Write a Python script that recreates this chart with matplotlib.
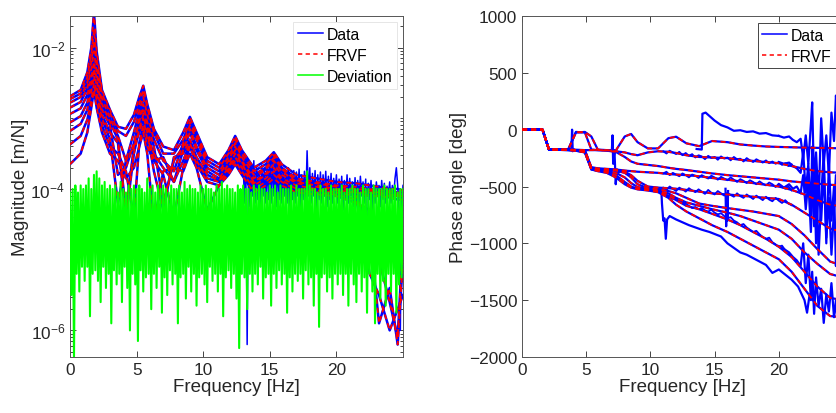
import numpy as np
import matplotlib.pyplot as plt
from matplotlib.ticker import FixedLocator, LogLocator, NullFormatter

plt.rcParams['font.family'] = ['Liberation Sans', 'DejaVu Sans']
plt.rcParams['mathtext.fontset'] = 'custom'
plt.rcParams['mathtext.rm'] = 'Liberation Sans'
plt.rcParams['mathtext.it'] = 'Liberation Sans:italic'

# ---- magnitude: log10(|H|) in m/N at mag_freq (Hz)
mag_freq = [0, 0.8, 1.3, 1.6, 1.8, 2.0, 2.4, 3.0, 3.6, 4.2, 4.8, 5.2, 5.5, 5.8, 6.3,
            7.0, 7.8, 8.5, 9.0, 9.5, 10.3, 11.2, 11.9, 12.4, 12.9, 13.8, 14.7, 15.3,
            15.9, 17.0, 18.5, 20.0, 21.5, 22.5, 23.2, 24.0, 24.6, 25.0]
mag_1 = [-2.69, -2.60, -2.35, -2.0, -1.5, -2.05, -2.6, -2.88, -3.12, -3.15, -2.95, -2.7,
         -2.54, -2.8, -3.15, -3.4, -3.45, -3.2, -2.98, -3.2, -3.55, -3.65, -3.45, -3.25,
         -3.45, -3.7, -3.6, -3.48, -3.65, -3.8, -3.85, -3.9, -3.92, -3.95, -3.97, -4.0,
         -4.0, -4.02]
mag_2 = [-2.73, -2.65, -2.42, -2.1, -1.75, -2.15, -2.65, -2.92, -3.18, -3.25, -3.05, -2.8,
         -2.6, -2.85, -3.2, -3.5, -3.5, -3.3, -3.05, -3.25, -3.6, -3.7, -3.5, -3.3, -3.5,
         -3.75, -3.65, -3.52, -3.7, -3.85, -3.9, -3.95, -3.97, -4.0, -4.02, -4.03, -4.05,
         -4.05]
mag_3 = [-2.78, -2.7, -2.5, -2.2, -1.9, -2.25, -2.72, -3.0, -3.25, -3.6, -3.2, -2.9, -2.7,
         -2.95, -3.3, -3.6, -3.75, -3.35, -3.1, -3.3, -3.65, -3.75, -3.55, -3.35, -3.55,
         -3.8, -3.7, -3.56, -3.72, -3.88, -3.92, -3.97, -4.0, -4.02, -4.05, -4.05, -4.08,
         -4.1]
mag_4 = [-2.85, -2.77, -2.58, -2.3, -2.05, -2.35, -2.8, -3.05, -3.3, -4.3, -3.4, -3.0,
         -2.8, -3.05, -3.4, -4.2, -3.6, -3.4, -3.15, -3.4, -3.7, -3.8, -3.6, -3.4, -3.6,
         -3.85, -3.72, -3.6, -3.75, -3.9, -3.95, -4.0, -4.02, -4.05, -4.05, -4.08, -4.1,
         -4.1]
mag_5 = [-2.94, -2.86, -2.67, -2.42, -2.2, -2.45, -2.88, -3.1, -3.8, -3.7, -3.35, -3.05,
         -2.85, -3.1, -3.6, -3.55, -3.9, -3.45, -3.2, -3.45, -3.75, -3.85, -3.65, -3.45,
         -3.62, -3.9, -3.78, -3.65, -3.8, -3.92, -3.97, -4.02, -4.05, -4.05, -4.08, -4.1,
         -4.1, -4.12]
mag_6 = [-3.06, -2.97, -2.78, -2.52, -2.3, -2.55, -2.95, -3.2, -3.35, -4.4, -3.5, -3.15,
         -2.95, -3.2, -3.75, -4.3, -3.55, -3.5, -3.3, -3.55, -3.8, -3.88, -3.7, -3.5, -3.65,
         -3.92, -3.8, -3.7, -3.85, -3.95, -4.0, -4.05, -4.05, -4.1, -4.1, -4.12, -4.15,
         -4.15]
mag_7 = [-3.18, -3.08, -2.88, -2.62, -2.4, -2.65, -3.0, -3.3, -4.2, -3.6, -3.4, -3.2, -3.0,
         -3.3, -3.5, -3.7, -3.9, -3.6, -3.35, -3.6, -3.85, -3.9, -3.72, -3.55, -3.7, -3.95,
         -3.85, -3.75, -3.88, -4.0, -4.02, -4.05, -4.1, -4.6, -5.9, -5.4, -6.2, -5.0]
mag_8 = [-3.37, -3.25, -3.02, -2.75, -2.5, -2.75, -3.1, -3.4, -3.5, -3.75, -4.4, -3.35,
         -3.1, -3.4, -3.6, -3.8, -4.4, -3.7, -3.4, -3.65, -3.9, -3.95, -3.75, -3.6, -3.75,
         -4.0, -3.9, -3.8, -3.9, -4.02, -4.05, -4.08, -4.15, -5.2, -5.5, -6.0, -5.7, -5.5]
mag_9 = [-3.65, -3.5, -3.2, -2.85, -2.6, -2.85, -3.2, -3.5, -3.6, -3.85, -3.7, -3.4, -3.2,
         -3.5, -4.5, -3.75, -3.7, -3.75, -3.5, -3.7, -4.3, -3.95, -3.8, -3.65, -3.8, -4.05,
         -3.95, -3.85, -3.95, -4.05, -4.08, -4.1, -4.2, -4.3, -5.0, -5.6, -6.1, -4.7]

# noisy part of the measured data, 13..25 Hz every 0.1 Hz (log10)
data_noise = [
    -3.62, -4.2, -3.7, -6.2, -3.65, -4.25, -3.72, -4.1, -3.6, -4.2,
    -3.68, -4.15, -3.75, -4.3, -3.66, -4.1, -3.7, -4.2, -3.62, -4.15,
    -3.6, -4.2, -3.58, -4.1, -3.65, -4.25, -3.62, -4.15, -3.7, -4.2,
    -3.72, -4.1, -3.75, -4.2, -3.7, -4.3, -3.78, -4.15, -3.74, -4.2,
    -3.76, -4.1, -3.72, -4.25, -3.8, -4.15, -3.75, -4.2, -3.46, -4.1,
    -3.7, -4.2, -3.78, -4.1, -3.74, -4.3, -3.8, -4.15, -3.76, -4.2,
    -3.8, -4.1, -3.75, -4.25, -3.82, -4.15, -3.78, -4.2, -3.85, -4.1,
    -3.8, -4.2, -3.86, -4.1, -3.82, -4.3, -3.88, -4.15, -3.8, -4.2,
    -3.85, -4.1, -3.9, -4.25, -3.84, -4.15, -3.88, -4.2, -3.82, -4.1,
    -3.9, -4.2, -3.86, -5.5, -3.92, -4.15, -3.88, -4.3, -3.95, -4.2,
    -3.9, -4.1, -3.95, -4.25, -3.88, -4.15, -3.92, -4.2, -3.96, -4.1,
    -3.9, -4.2, -3.95, -4.1, -3.85, -3.7, -3.95, -4.3, -6.0, -4.2,
    -3.95]

# deviation, 0..25 Hz every 0.1 Hz (log10)
deviation = [
    -4.05, -5.5, -4.0, -6.4, -3.95, -5.2, -4.05, -5.45, -3.95, -5.1,
    -4.0, -5.3, -3.95, -5.1, -3.85, -5.8, -4.0, -5.2, -3.8, -5.15,
    -3.75, -5.3, -3.85, -5.6, -3.95, -5.1, -3.9, -5.4, -4.0, -5.2,
    -3.95, -5.9, -4.0, -5.15, -3.95, -5.35, -4.05, -5.2, -3.9, -5.6,
    -4.0, -5.1, -4.05, -5.4, -3.95, -6.0, -4.0, -5.2, -3.95, -5.35,
    -4.0, -6.15, -3.95, -5.15, -4.0, -5.45, -4.05, -5.25, -3.85, -5.2,
    -4.0, -5.7, -3.95, -5.2, -4.05, -5.4, -3.95, -5.1, -4.0, -5.75,
    -3.95, -5.25, -4.0, -5.5, -4.05, -5.15, -3.95, -5.35, -4.0, -5.2,
    -4.0, -5.9, -3.95, -5.25, -4.05, -5.2, -3.9, -5.55, -4.0, -5.1,
    -3.95, -5.45, -4.0, -5.2, -4.0, -5.65, -4.05, -5.25, -3.95, -5.2,
    -4.0, -5.35, -3.95, -5.6, -4.0, -5.1, -4.0, -5.3, -4.05, -5.2,
    -3.95, -5.45, -4.0, -5.2, -3.9, -5.8, -4.0, -5.25, -3.95, -5.15,
    -4.0, -5.4, -4.0, -5.2, -4.05, -5.55, -3.95, -6.25, -4.0, -5.2,
    -3.95, -5.25, -4.0, -5.7, -4.0, -5.2, -4.05, -5.45, -3.95, -5.2,
    -4.0, -5.35, -3.95, -5.1, -4.0, -5.55, -4.0, -5.25, -4.05, -5.2,
    -3.95, -5.65, -4.0, -5.2, -3.95, -5.4, -4.05, -5.15, -3.95, -5.35,
    -4.0, -5.2, -4.0, -5.75, -4.0, -5.25, -3.95, -5.45, -4.05, -5.2,
    -3.95, -5.3, -4.0, -5.2, -4.0, -5.55, -4.0, -5.15, -3.75, -5.35,
    -3.95, -5.25, -4.0, -5.65, -4.0, -5.2, -4.05, -5.95, -3.95, -5.25,
    -4.0, -5.2, -4.0, -5.45, -4.05, -5.25, -3.95, -5.55, -4.0, -5.2,
    -4.0, -5.35, -4.0, -5.2, -3.95, -5.5, -4.05, -5.2, -4.0, -5.65,
    -4.0, -5.2, -3.95, -5.35, -4.0, -5.6, -4.0, -5.2, -4.05, -5.45,
    -3.95, -5.25, -4.0, -5.75, -4.0, -5.2, -4.05, -5.45, -3.95, -5.9,
    -4.0, -5.2, -4.0, -5.55, -4.0, -5.3, -3.95, -5.65, -4.0, -5.2,
    -4.0, -5.45, -4.0, -5.2, -3.95, -5.75, -4.05, -5.35, -4.0, -5.25,
    -4.0]

# ---- phase in degrees, read at ph_freq (Hz)
ph_freq = [0, 1.6, 2.1, 3.6, 4.2, 4.9, 5.4, 5.9, 6.6, 7.3, 8.0, 8.5, 9.0, 9.8, 10.6,
           11.4, 12.0, 12.8, 13.8, 14.8, 16.0, 17.0, 18.0, 19.0, 20.0, 21.0, 22.0, 23.0,
           24.0, 25.0]
ph_1 = [0, 0, -175, -175, -178, -180, -180, -180, -182, -185, -60, -38, -110, -165, -165,
        -75, -62, -120, -145, -100, -110, -130, -140, -148, -152, -155, -158, -160, -162,
        -165]
ph_2 = [0, 0, -175, -175, -25, -20, -60, -175, -180, -190, -200, -215, -225, -200, -190,
        -195, -205, -225, -240, -245, -250, -265, -275, -285, -295, -320, -345, -365,
        -375, -380]
ph_3 = [0, 0, -175, -175, -20, -25, -175, -180, -185, -195, -240, -280, -300, -310, -320,
        -335, -345, -355, -370, -385, -400, -410, -420, -430, -440, -455, -465, -475,
        -485, -490]
ph_4 = [0, 0, -175, -175, -178, -180, -330, -340, -345, -350, -360, -365, -370, -375,
        -380, -390, -395, -400, -410, -425, -440, -455, -470, -485, -500, -530, -570,
        -620, -660, -675]
ph_5 = [0, 0, -175, -178, -180, -185, -335, -345, -350, -355, -370, -400, -450, -500,
        -510, -515, -520, -530, -545, -560, -570, -580, -590, -600, -610, -660, -730,
        -800, -870, -900]
ph_6 = [0, 0, -175, -178, -180, -190, -340, -350, -355, -360, -380, -420, -480, -515,
        -525, -540, -560, -600, -650, -670, -690, -705, -720, -740, -760, -830, -930,
        -1050, -1160, -1200]
ph_7 = [0, 0, -175, -178, -182, -195, -345, -355, -365, -380, -420, -470, -505, -520,
        -540, -560, -600, -640, -670, -700, -730, -760, -800, -840, -880, -960, -1080,
        -1180, -1270, -1300]
ph_8 = [0, 0, -175, -180, -185, -200, -350, -360, -370, -400, -460, -500, -520, -530,
        -545, -580, -620, -670, -700, -740, -790, -840, -900, -960, -1030, -1120, -1250,
        -1380, -1480, -1500]
ph_9 = [0, 0, -175, -180, -185, -200, -350, -365, -380, -420, -480, -510, -525, -535,
        -550, -600, -660, -720, -780, -840, -900, -960, -1020, -1080, -1140, -1250, -1400,
        -1550, -1640, -1650]

# measured phase, noisy stretches 11..21 Hz every 0.25 Hz
noisy_2 = [-190, -210, -185, -200, -215, -195, -225, -205, -230, -215,
           -245, -225, -235, -260, -230, -250, -240, -265, -235, -255,
           -245, -270, -240, -260, -255, -280, -250, -270, -285, -260,
           -275, -290, -270, -295, -280, -300, -285, -310, -295, -320,
           -305]
noisy_4 = [-385, -370, -400, -380, -395, -410, -385, -400, -420, -395,
           -405, -425, -400, -415, -430, -405, -420, -440, -415, -430,
           -445, -420, -440, -460, -435, -450, -470, -445, -460, -480,
           -455, -475, -490, -465, -480, -505, -475, -495, -520, -500,
           -535]
noisy_5 = [-510, -530, -500, -520, -540, -510, -525, -545, -515, -535,
           -550, -525, -545, -565, -530, -555, -570, -540, -560, -580,
           -555, -575, -590, -560, -585, -600, -570, -590, -610, -580,
           -600, -620, -590, -615, -630, -600, -625, -645, -620, -650,
           -665]
noisy_8 = [-560, -580, -590, -610, -600, -625, -640, -650, -670, -690,
           -680, -700, -690, -710, -720, -705, -730, -745, -735, -760,
           -780, -770, -800, -815, -840, -830, -860, -880, -900, -890,
           -920, -945, -960, -950, -990, -1010, -1030, -1020, -1060, -1090,
           -1120]

# measured phase traces that leave the fitted curves
jump_top_f = [13.6, 14.0, 14.05, 14.3, 14.6, 15.0, 15.5, 16.0, 16.5, 17.0, 17.5, 18.0,
              18.5, 19.0, 19.5, 20.0]
jump_top_p = [-170, -175, 140, 150, 120, 80, 40, 20, -10, -5, -20, -15, -35, -30, -50, -55]
jump_bot_f = [10.5, 10.85, 10.9, 11.0, 11.1, 11.2, 11.3, 11.5, 12.0, 13.0, 14.0, 14.6,
              15.5, 16.0, 17.0, 17.5, 18.0, 19.0, 19.5, 20.0, 21.0, 21.5, 22.0, 22.2, 22.4]
jump_bot_p = [-520, -530, -650, -800, -780, -960, -790, -760, -790, -840, -880, -900,
              -940, -1000, -1080, -1100, -1130, -1190, -1260, -1230, -1320, -1380, -1500,
              -1610, -1450]
spike_1_f = [3.75, 3.85, 3.9, 3.95, 4.05]
spike_1_p = [-175, -175, 0, -190, -175]
spike_2_f = [6.9, 7.0, 7.05, 7.1, 7.2, 7.3, 7.4, 7.5, 7.6]
spike_2_p = [-180, -180, -50, -300, -180, -480, -350, -380, -360]
spike_3_f = [15.85, 15.9, 15.95, 16.0, 16.05]
spike_3_p = [-520, -850, -600, -800, -540]
hf_f = [20.0, 20.4, 20.8, 21.1, 21.4, 21.7, 21.9, 22.1, 22.3, 22.5, 22.6, 22.75, 22.9,
        23.1, 23.3, 23.5, 23.7, 23.9, 24.1, 24.3, 24.45, 24.6, 24.75, 24.9, 25.0]
hf_a = [-55, -70, -60, -90, -110, -80, -250, -50, -300, 50, 240, -500, -200, -650, 100,
        -300, -50, -400, 150, -100, 300, 100, 560, 250, 400]
hf_b = [-495, -510, -480, -520, -500, -560, -400, -700, -450, -900, -600, -300, -1000,
        -500, -800, -350, -950, -600, -1100, -700, -400, -900, -650, -1000, -800]
hf_c = [-1025, -1050, -1080, -1120, -1150, -1200, -1000, -1350, -1100, -1500, -1250,
        -1620, -1300, -1550, -1400, -1700, -1450, -1600, -1350, -1650, -1500, -1720,
        -1550, -1650, -1600]
hf_d = [-285, -300, -290, -320, -340, -380, -200, -550, -300, -750, -150, -850, -400,
        -1100, -600, -200, -1000, -300, -800, -500, -1200, -600, -300, -700, -500]

BLUE = '#0000ff'
RED = '#ff0000'
GREEN = '#00ff00'
TXT = '#262626'

mag_curves = [mag_1, mag_2, mag_3, mag_4, mag_5, mag_6, mag_7, mag_8, mag_9]
ph_curves = [ph_1, ph_2, ph_3, ph_4, ph_5, ph_6, ph_7, ph_8, ph_9]
noisy_curves = [noisy_2, noisy_4, noisy_5, noisy_8]


def style(ax):
    ax.tick_params(which='both', direction='in', top=True, right=True, colors=TXT,
                   labelsize=12.4, width=0.6)
    ax.tick_params(which='major', length=4)
    ax.tick_params(which='minor', length=2)
    for s in ax.spines.values():
        s.set_color('#555555')
        s.set_linewidth(0.7)


def legend(ax, edge, pad):
    leg = ax.legend(loc='upper right', fontsize=11.3, handlelength=1.6, handletextpad=0.2,
                    labelspacing=0.38, borderpad=0.3, borderaxespad=pad, fancybox=False,
                    edgecolor=edge, framealpha=1)
    leg.get_frame().set_linewidth(0.7)
    for ln in leg.get_lines():
        ln.set_linewidth(1.1)
    return leg


fig = plt.figure(figsize=(8.37, 4.14), dpi=100)

# ---- left: magnitude
ax1 = fig.add_axes([70 / 837, 56 / 414, 333 / 837, 341 / 414])
for i, c in enumerate(mag_curves):
    ax1.plot(mag_freq, 10 ** np.array(c), color=BLUE, lw=1.8,
             label='Data' if i == 0 else None, zorder=2)
ax1.plot(np.linspace(13, 25, len(data_noise)), 10 ** np.array(data_noise),
         color=BLUE, lw=1.1, zorder=2)
for i, c in enumerate(mag_curves):
    ax1.plot(mag_freq, 10 ** np.array(c), color=RED, lw=1.3, ls='--', dashes=(2.8, 2.2),
             label='FRVF' if i == 0 else None, zorder=3)
ax1.plot(np.linspace(0, 25, len(deviation)), 10 ** np.array(deviation), color=GREEN,
         lw=1.5, label='Deviation', zorder=4)

ax1.set_yscale('log')
ax1.set_xlim(0, 25)
ax1.set_ylim(10 ** -6.376, 10 ** -1.554)
ax1.set_xticks([0, 5, 10, 15, 20])
ax1.yaxis.set_major_locator(FixedLocator([1e-6, 1e-4, 1e-2]))
ax1.yaxis.set_minor_locator(LogLocator(base=10, subs=np.arange(1, 10), numticks=30))
ax1.yaxis.set_minor_formatter(NullFormatter())
ax1.set_xlabel('Frequency [Hz]', fontsize=13.5, color=TXT, labelpad=1)
ax1.set_ylabel('Magnitude [m/N]', fontsize=13.5, color=TXT, labelpad=1)
style(ax1)
legend(ax1, '#e6e6e6', 0.4)

# ---- right: phase (axes runs past the right edge, as in the original)
ax2 = fig.add_axes([522 / 837, 56 / 414, 321 / 837, 341 / 414])
for i, c in enumerate(ph_curves):
    ax2.plot(ph_freq, c, color=BLUE, lw=1.6, label='Data' if i == 0 else None, zorder=2)
noisy_f = np.linspace(11, 21, len(noisy_2))
for c in noisy_curves:
    ax2.plot(noisy_f, c, color=BLUE, lw=1.3, zorder=2)
for fx, py in [(jump_top_f, jump_top_p), (jump_bot_f, jump_bot_p),
               (spike_1_f, spike_1_p), (spike_2_f, spike_2_p), (spike_3_f, spike_3_p),
               (hf_f, hf_a), (hf_f, hf_b), (hf_f, hf_c), (hf_f, hf_d)]:
    ax2.plot(fx, py, color=BLUE, lw=1.6, zorder=2)
for i, c in enumerate(ph_curves):
    ax2.plot(ph_freq, c, color=RED, lw=1.3, ls='--', dashes=(2.8, 2.2),
             label='FRVF' if i == 0 else None, zorder=3)

ax2.set_xlim(0, 25)
ax2.set_ylim(-2000, 1000)
ax2.set_xticks([0, 5, 10, 15, 20])
ax2.set_yticks(np.arange(-2000, 1001, 500))
ax2.set_xlabel('Frequency [Hz]', fontsize=13.5, color=TXT, labelpad=1)
ax2.set_ylabel('Phase angle [deg]', fontsize=13.5, color=TXT, labelpad=1)
style(ax2)
legend(ax2, '#444444', 0.45)

fig.savefig('out.png', dpi=100)
